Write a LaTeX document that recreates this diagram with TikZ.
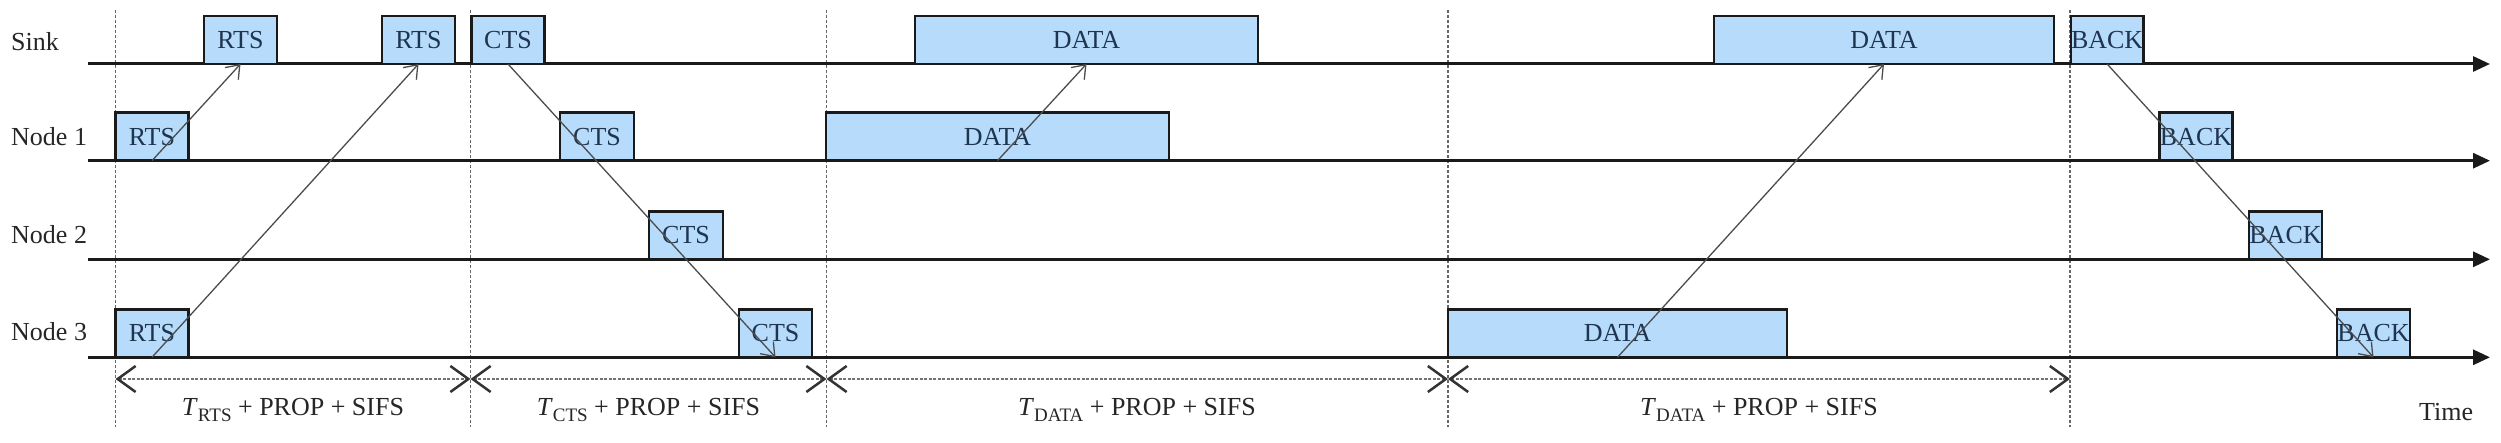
\documentclass[tikz,border=0pt]{standalone}
\usepackage{fontspec}
\setmainfont{Liberation Serif}
\usetikzlibrary{arrows.meta}
\definecolor{pktfill}{HTML}{B7DBFA}
\definecolor{pkttext}{HTML}{1E3552}
\definecolor{lineclr}{HTML}{1A1A1A}
\newcommand{\subtxt}[1]{\raisebox{-6pt}{\fontsize{19}{20}\selectfont #1}}
\begin{document}
\begin{tikzpicture}[x=1pt,y=-1pt,
  pkt/.style={draw=lineclr, line width=2.5pt, fill=pktfill, text=pkttext, inner sep=0pt, outer sep=0pt,
    minimum height=48pt, anchor=south west, font=\fontsize{26}{30}\selectfont},
  lbl/.style={font=\fontsize{26}{30}\selectfont, text=black!85, inner sep=0pt},
  tl/.style={line width=3pt, draw=lineclr, -{Triangle[length=17pt,width=15pt]}},
  vgrid/.style={draw=black!60, line width=1.3pt, dash pattern=on 3pt off 2pt},
  dim/.style={draw=black!55, line width=1.8pt, dash pattern=on 3pt off 1.5pt,
    {Straight Barb[length=18pt,width=26pt,line width=2.5pt,color=black!80]}-{Straight Barb[length=18pt,width=26pt,line width=2.5pt,color=black!80]}},
  msg/.style={draw=black!70, line width=1.3pt, -{Straight Barb[length=12pt,width=18pt]}}
]
\useasboundingbox (0,0) rectangle (2501,443);

% vertical separators
\foreach \i/\x in {1/115.5,2/470.5,3/826.5,4/1448,5/2070}{
  \coordinate (vt\i) at (\x,10);
  \coordinate (vb\i) at (\x,427);
  \coordinate (d\i) at (\x,379);
}
\foreach \i in {1,...,5}{ \draw[vgrid] (vt\i) -- (vb\i); }

% time lines
\coordinate (ls) at (88,64);     \coordinate (rs) at (2490,64);
\coordinate (l1) at (88,160.7);  \coordinate (r1) at (2490,160.7);
\coordinate (l2) at (88,259.3);  \coordinate (r2) at (2490,259.3);
\coordinate (l3) at (88,357.3);  \coordinate (r3) at (2490,357.3);
\draw[tl] (ls) -- (rs);
\draw[tl] (l1) -- (r1);
\draw[tl] (l2) -- (r2);
\draw[tl] (l3) -- (r3);

% row labels
\node[lbl, anchor=west] (nsink) at (11,42) {Sink};
\node[lbl, anchor=west] (nn1) at (11,137) {Node 1};
\node[lbl, anchor=west] (nn2) at (11,235) {Node 2};
\node[lbl, anchor=west] (nn3) at (11,332) {Node 3};

% Sink packets
\node[pkt, minimum width=73pt] (srts1) at (204,64) {RTS};
\node[pkt, minimum width=73pt] (srts2) at (382,64) {RTS};
\node[pkt, minimum width=73pt] (scts) at (471.5,64) {CTS};
\node[pkt, minimum width=343pt] (sdata1) at (915,64) {DATA};
\node[pkt, minimum width=340pt] (sdata2) at (1714,64) {DATA};
\node[pkt, minimum width=72pt] (sback) at (2071,64) {BACK};

% Node 1 packets
\node[pkt, minimum width=73pt] (artsn) at (115.5,160.7) {RTS};
\node[pkt, minimum width=74pt] (actsn) at (560,160.7) {CTS};
\node[pkt, minimum width=343pt] (adata) at (826,160.7) {DATA};
\node[pkt, minimum width=73pt] (aback) at (2159.5,160.7) {BACK};

% Node 2 packets
\node[pkt, minimum width=74pt] (bcts) at (649,259.3) {CTS};
\node[pkt, minimum width=73pt] (bback) at (2249,259.3) {BACK};

% Node 3 packets
\node[pkt, minimum width=73pt] (crts) at (115.5,357.3) {RTS};
\node[pkt, minimum width=73pt] (ccts) at (739,357.3) {CTS};
\node[pkt, minimum width=339pt] (cdata) at (1448,357.3) {DATA};
\node[pkt, minimum width=73pt] (cback) at (2337,357.3) {BACK};

% message arrows
\draw[msg] (artsn.south) -- (srts1.south);
\draw[msg] (crts.south) -- (srts2.south);
\draw[msg] (scts.south) -- (ccts.south);
\draw[msg] (adata.south) -- (sdata1.south);
\draw[msg] (cdata.south) -- (sdata2.south);
\draw[msg] (sback.south) -- (cback.south);

% durations
\draw[dim] (d1) -- (d2);
\draw[dim] (d2) -- (d3);
\draw[dim] (d3) -- (d4);
\draw[dim] (d4) -- (d5);

\node[lbl] (t1) at (293,410) {\textit{T}\subtxt{RTS} + PROP + SIFS};
\node[lbl] (t2) at (648.5,410) {\textit{T}\subtxt{CTS} + PROP + SIFS};
\node[lbl] (t3) at (1137,410) {\textit{T}\subtxt{DATA} + PROP + SIFS};
\node[lbl] (t4) at (1759,410) {\textit{T}\subtxt{DATA} + PROP + SIFS};
\node[lbl, anchor=west] (time) at (2419,412) {Time};
\end{tikzpicture}
\end{document}
